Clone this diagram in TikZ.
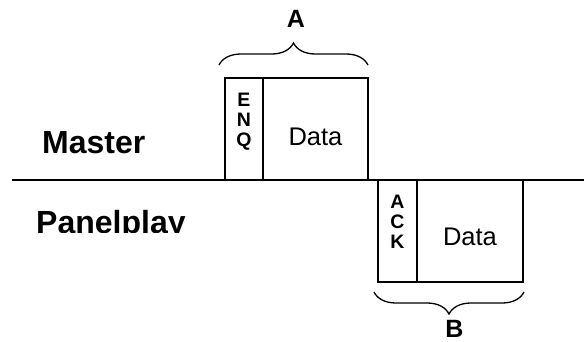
\documentclass[tikz,border=0pt]{standalone}
\usepackage{fontspec}
\setmainfont{Liberation Sans}
\usetikzlibrary{positioning,decorations.pathreplacing}
\tikzset{
    frame/.style={
        rectangle,
        draw=black,
        line width=1.5pt,
        minimum height=102pt,
        inner sep=0pt,
        outer sep=0pt,
    },
    side/.style={
        inner sep=0pt,
        anchor=base west,
        font=\fontsize{32}{36}\selectfont\bfseries,
    },
    bits/.style={
        inner sep=0pt,
        anchor=north,
        align=center,
        font=\fontsize{19.5}{20}\selectfont\bfseries,
    },
    payload/.style={
        inner sep=0pt,
        anchor=base,
        font=\fontsize{25.5}{28}\selectfont,
    },
    tag/.style={
        inner sep=0pt,
        font=\fontsize{25}{28}\selectfont\bfseries,
    },
    brace/.style={
        decorate,
        decoration={brace,amplitude=22pt},
        line width=1.3pt,
    },
}
\begin{document}
\begin{tikzpicture}[x=1pt,y=-1pt]
    \useasboundingbox (0,0) rectangle (584,341);

    % Time line between the two stations
    \coordinate (lineL) at (12,180);
    \coordinate (lineR) at (584,180);
    \draw[line width=1.5pt] (lineL) -- (lineR);

    % Station names
    \node[side] (master) at (42,153) {Master};
    \begin{scope}
        \clip (0,182) rectangle (300,232);
        \node[side] (panel) at (36,233) {Panelplay};
    \end{scope}

    % Master frame
    \node[frame,minimum width=38pt,anchor=south west] (enq) at (225,180) {};
    \node[frame,minimum width=105pt,right=0pt of enq] (dataA) {};
    \node[bits] (enqtxt) at ([yshift=-15pt]enq.north) {E\\N\\Q};
    \node[payload] (dataAtxt) at ([yshift=-67pt]dataA.north) {Data};

    % Panelplay frame
    \node[frame,minimum width=39pt,anchor=north west] (ack) at (378,180) {};
    \node[frame,minimum width=106pt,right=0pt of ack] (dataB) {};
    \node[bits] (acktxt) at ([yshift=-15pt]ack.north) {A\\C\\K};
    \node[payload] (dataBtxt) at ([yshift=-65pt]dataB.north) {Data};

    % Braces
    \draw[brace] ([shift={(-6,-13)}]enq.north west) -- ([shift={(0,-13)}]dataA.north east);
    \draw[brace] ([shift={(1,10)}]dataB.south east) -- ([shift={(-4,10)}]ack.south west);
    \node[tag] (labA) at (296,18.5) {A};
    \node[tag] (labB) at (454.5,328.5) {B};
\end{tikzpicture}
\end{document}
